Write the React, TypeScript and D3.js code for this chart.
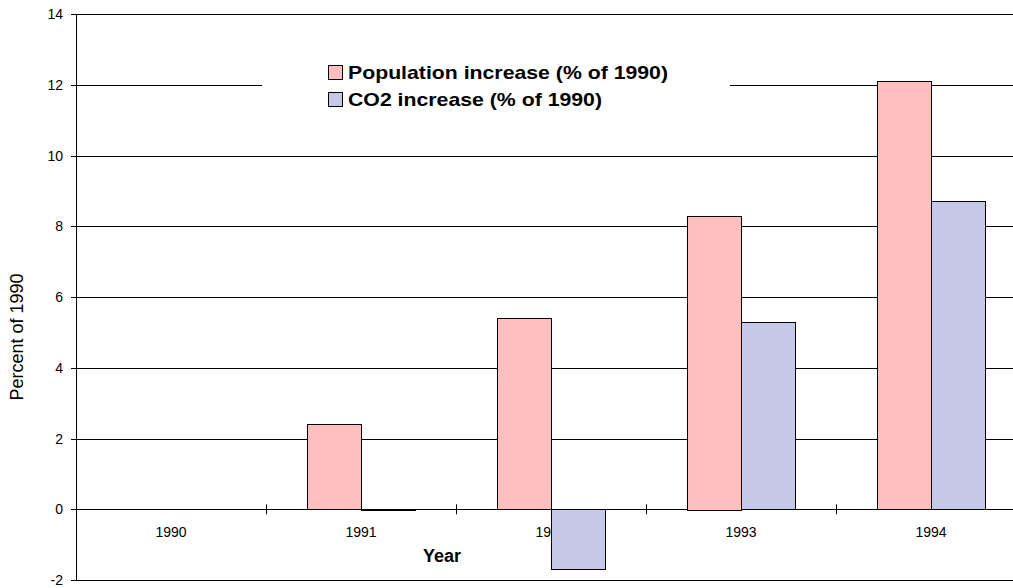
import React from "react";
import * as d3 from "d3";

const years = ["1990", "1991", "1992", "1993", "1994"];
const populationIncrease = [0, 2.4, 5.4, 8.3, 12.1];
const co2Increase = [0, 0.02, -1.7, 5.3, 8.7];
const yTicks = [-2, 0, 2, 4, 6, 8, 10, 12, 14];
const seriesNames = ["Population increase (% of 1990)", "CO2 increase (% of 1990)"];
const seriesColors = ["#FFBFBF", "#C6C8EA"];

export default function App() {
  const W = 1013, H = 588;
  const left = 76, right = 1026, top = 14, bottom = 580;
  const x = d3.scaleBand<string>().domain(years).range([left, right]).paddingInner(0).paddingOuter(0);
  const y = d3.scaleLinear().domain([-2, 14]).range([bottom, top]);
  const bw = 54;
  const font = "'Liberation Sans', Arial, sans-serif";
  const y0 = y(0);
  const series = [populationIncrease, co2Increase];
  const cr = (v: number) => Math.round(v) + 0.5;
  const legendWidths = [320, 254];

  return (
    <svg width={W} height={H} style={{ position: "fixed", left: 0, top: 0, background: "#fff" }} fontFamily={font}>
      <rect x={0} y={0} width={W} height={H} fill="#fff" />
      {yTicks.map((t) => (
        <line key={"g" + t} x1={left - 5} x2={right} y1={cr(y(t))} y2={cr(y(t))} stroke="#000" strokeWidth={1} />
      ))}
      {yTicks.map((t) => (
        <text key={"t" + t} x={63} y={y(t)} dy="0.36em" textAnchor="end" fontSize={14} fill="#000">{t}</text>
      ))}
      <line x1={cr(left)} x2={cr(left)} y1={top} y2={bottom} stroke="#000" />
      {years.slice(1).map((c) => (
        <line key={"ct" + c} x1={cr(x(c)!)} x2={cr(x(c)!)} y1={y0 - 5} y2={y0 + 5} stroke="#000" />
      ))}
      {years.map((c) => (
        <text key={"cl" + c} x={x(c)! + x.bandwidth() / 2} y={537} textAnchor="middle" fontSize={14} fill="#000">{c}</text>
      ))}
      {years.map((c, i) =>
        series.map((s, si) => {
          const v = s[i];
          if (v === 0) return null;
          const cx = x(c)! + x.bandwidth() / 2;
          const bx = cx - bw + si * bw;
          const yt = Math.min(y(v), y0);
          const h = Math.max(Math.abs(y(v) - y0), 1);
          return (
            <rect key={c + si} x={Math.round(bx) + 0.5} y={Math.round(yt) + 0.5} width={bw} height={Math.round(h)}
              fill={seriesColors[si]} stroke="#000" strokeWidth={1} />
          );
        })
      )}
      <rect x={262} y={52} width={468} height={66} fill="#fff" />
      {seriesNames.map((n, i) => (
        <g key={n} transform={`translate(328, ${65 + i * 27})`}>
          <rect x={0.5} y={0.5} width={14} height={14} fill={seriesColors[i]} stroke="#000" />
          <text x={20} y={14} fontSize={19} fontWeight="bold" fill="#000"
            textLength={legendWidths[i]} lengthAdjust="spacingAndGlyphs">{n}</text>
        </g>
      ))}
      <text x={442} y={562} textAnchor="middle" fontSize={18} fontWeight="bold" fill="#000">Year</text>
      <text transform={`translate(23, 337) rotate(-90)`} textAnchor="middle" fontSize={18} fill="#000">Percent of 1990</text>
    </svg>
  );
}
